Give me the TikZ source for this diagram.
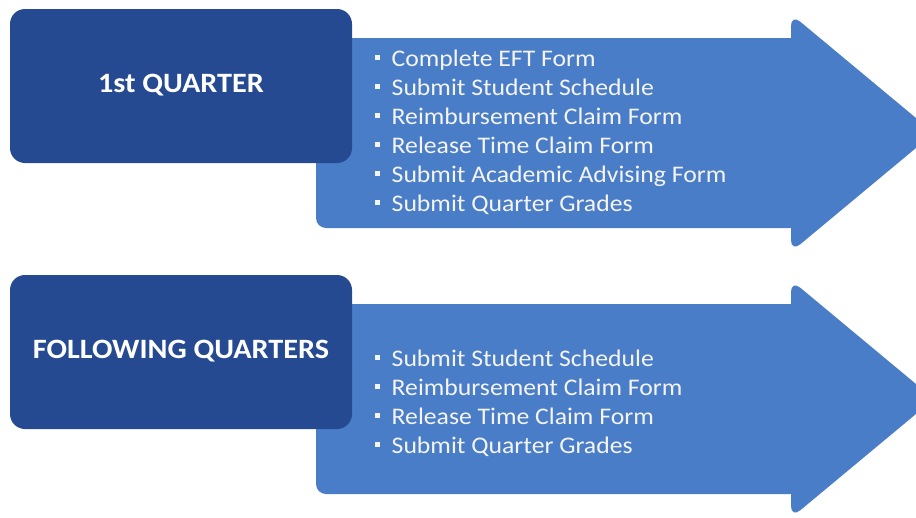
\documentclass[tikz,border=0pt]{standalone}
\usepackage{fontspec}
\setmainfont{Carlito}[FakeStretch=1.08]
\usepackage{tikz}
\usetikzlibrary{shapes}
\definecolor{stagedark}{RGB}{37,74,146}
\definecolor{arrowblue}{RGB}{74,125,199}
\definecolor{itemwhite}{RGB}{244,244,244}
\tikzset{
  stage/.style={rectangle, rounded corners=15pt, fill=stagedark, minimum width=342pt, minimum height=154pt, inner sep=0pt},
  stagetitle/.style={text=white, font=\fontsize{28}{33}\selectfont\bfseries, inner sep=0pt},
  tasklist/.style={anchor=base west, align=left, text=itemwhite, font=\fontsize{23.8}{29}\selectfont, inner sep=0pt},
  arrowfill/.style={fill=arrowblue}
}
\newcommand{\taskitem}[1]{\rule[6.5pt]{5pt}{5pt}\hspace{11.5pt}#1}
\newcommand{\stagearrow}[1] {\fill [arrowfill, rounded corners=10pt] (316,#1-95) rectangle (800,#1+95); \fill [arrowfill, rounded corners=12pt] (791,#1-119) -- (934,#1) -- (791,#1+119) -- cycle;}
\newcommand{\stagebox}[3] {\node at (#1) (#2) [stage] {}; \node at ([yshift=1pt]#2.center) (#2title) [stagetitle] {#3};}
\newcommand{\tasks}[3] {\node at (#1) (#2) [tasklist] {#3};}

\begin{document}
\begin{tikzpicture}[x=1pt, y=-1pt]

\useasboundingbox (0,0) rectangle (916,517);
\clip (0,0) rectangle (916,517);

\stagearrow{133};
\stagearrow{399};

\stagebox {181,86} {first} {1st QUARTER};
\stagebox {181,352} {following} {FOLLOWING QUARTERS};

\tasks {375,211.7} {firsttasks} {\taskitem{Complete EFT Form}\\ \taskitem{Submit Student Schedule}\\ \taskitem{Reimbursement Claim Form}\\ \taskitem{Release Time Claim Form}\\ \taskitem{Submit Academic Advising Form}\\ \taskitem{Submit Quarter Grades}};
\tasks {375,453} {followingtasks} {\taskitem{Submit Student Schedule}\\ \taskitem{Reimbursement Claim Form}\\ \taskitem{Release Time Claim Form}\\ \taskitem{Submit Quarter Grades}};

\end{tikzpicture}
\end{document}
